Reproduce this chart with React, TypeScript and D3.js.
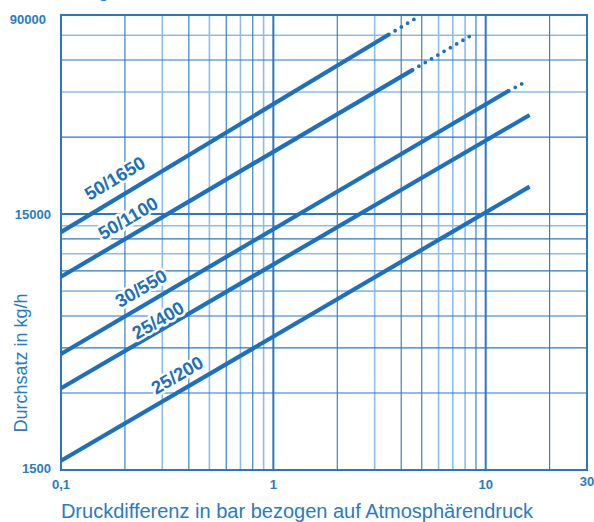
import React from 'react';
import * as d3 from 'd3';

// values (log-log flow diagram)
const seriesNames = ['50/1650', '50/1100', '30/550', '25/400', '25/200'];
const startP = [0.1, 0.1, 0.1, 0.1, 0.1];
const startQ = [12760, 8540, 4260, 3130, 1630];
const endP = [3.5, 4.53, 12.85, 16.1, 16.1];
const endQ = [75500, 54900, 45500, 36600, 19200];
const dotP = [4.74, 8.61, 14.96, null, null];
const dotQ = [87900, 75200, 48700, null, null];
const labelP = [0.179, 0.2066, 0.238, 0.286, 0.352];
const labelQ = [20760, 14480, 7710, 5780, 3530];

const xGridDark = [0.2, 0.4, 0.6, 0.8, 2, 4, 5, 9, 20];
const xGridLight = [0.3, 0.5, 0.7, 0.9, 3, 6, 7, 8];
const xGridBold = [1, 10];
const yGridDark = [3000, 4500, 6000, 9000, 12000, 30000, 60000];
const yGridLight = [7500, 10500, 13500, 45000, 75000];
const yGridBold = [15000];

const xTicks = [0.1, 1, 10, 30];
const xTickLabels = ['0,1', '1', '10', '30'];
const yTicks = [90000, 15000, 1500];
const yTickLabels = ['90000', '15000', '1500'];

const W = 594;
const H = 522;
const M = { left: 61, right: 587, top: 15, bottom: 470 };

const LINE = '#1f70b8';
const GRID = '#2a78c0';
const GRID_LIGHT = '#8dbde5';
const TEXT = '#2b7bc1';
const FONT = '"Liberation Sans", Arial, sans-serif';

export default function App() {
  const x = d3.scaleLog().domain([0.1, 30]).range([M.left, M.right]);
  const y = d3.scaleLog().domain([1500, 90000]).range([M.bottom, M.top]);
  const line = d3.line<[number, number]>().x(d => x(d[0])).y(d => y(d[1]));

  return (
    <svg width={W} height={H} style={{ position: 'absolute', left: 0, top: 0, background: '#fff' }}>
      {/* cut-off title at the top */}
      <text x={70} y={-3} fontFamily={FONT} fontWeight="bold" fontSize={18} fill={TEXT}>Diagramm</text>

      {xGridLight.map(v => (
        <line key={'xl' + v} x1={x(v)} x2={x(v)} y1={M.top} y2={M.bottom} stroke={GRID_LIGHT} strokeWidth={1.6} />
      ))}
      {yGridLight.map(v => (
        <line key={'yl' + v} x1={M.left} x2={M.right} y1={y(v)} y2={y(v)} stroke={GRID_LIGHT} strokeWidth={1.6} />
      ))}
      {xGridDark.map(v => (
        <line key={'xd' + v} x1={x(v)} x2={x(v)} y1={M.top} y2={M.bottom} stroke={GRID} strokeWidth={1.1} />
      ))}
      {yGridDark.map(v => (
        <line key={'yd' + v} x1={M.left} x2={M.right} y1={y(v)} y2={y(v)} stroke={GRID} strokeWidth={1.1} />
      ))}
      {xGridBold.map(v => (
        <line key={'xb' + v} x1={x(v)} x2={x(v)} y1={M.top} y2={M.bottom} stroke={GRID} strokeWidth={2} />
      ))}
      {yGridBold.map(v => (
        <line key={'yb' + v} x1={M.left} x2={M.right} y1={y(v)} y2={y(v)} stroke={GRID} strokeWidth={2} />
      ))}
      <rect x={M.left} y={M.top} width={M.right - M.left} height={M.bottom - M.top} fill="none" stroke={GRID} strokeWidth={2} />

      {seriesNames.map((name, i) => {
        const dp = dotP[i];
        const dq = dotQ[i];
        return (
          <g key={name}>
            <path
              d={line([[startP[i], startQ[i]], [endP[i], endQ[i]]]) || ''}
              stroke={LINE}
              strokeWidth={4.2}
              fill="none"
            />
            {dp !== null && dq !== null && (
              <path
                d={line([[endP[i], endQ[i]], [dp, dq]]) || ''}
                stroke={LINE}
                strokeWidth={3.8}
                strokeLinecap="round"
                strokeDasharray="0 7.3"
                strokeDashoffset={-7.3}
                fill="none"
              />
            )}
          </g>
        );
      })}

      {seriesNames.map((name, i) => {
        const dx = x(endP[i]) - x(startP[i]);
        const dy = y(endQ[i]) - y(startQ[i]);
        const ang = (Math.atan2(dy, dx) * 180) / Math.PI;
        const cx = x(labelP[i]);
        const cy = y(labelQ[i]);
        return (
          <text
            key={'lab' + name}
            x={cx}
            y={cy}
            dy="0.36em"
            transform={`rotate(${ang} ${cx} ${cy})`}
            textAnchor="middle"
            fontFamily={FONT}
            fontWeight="bold"
            fontSize={18.5}
            fill={LINE}
            stroke="#fff"
            strokeWidth={5}
            paintOrder="stroke"
            strokeLinejoin="round"
          >
            {name}
          </text>
        );
      })}

      {xTicks.map((v, i) => (
        <text
          key={'xt' + v}
          x={x(v)}
          y={v === 30 ? 486 : 489}
          textAnchor="middle"
          fontFamily={FONT}
          fontWeight="bold"
          fontSize={13}
          fill={TEXT}
        >
          {xTickLabels[i]}
        </text>
      ))}
      {yTicks.map((v, i) => (
        <text
          key={'yt' + v}
          x={v === 90000 ? 46 : 51}
          y={y(v) + (v === 90000 ? 9 : v === 1500 ? 3 : 4.5)}
          textAnchor="end"
          fontFamily={FONT}
          fontWeight="bold"
          fontSize={13}
          fill={TEXT}
        >
          {yTickLabels[i]}
        </text>
      ))}

      <text x={297} y={518} textAnchor="middle" fontFamily={FONT} fontSize={20} fill={TEXT}>
        Druckdifferenz in bar bezogen auf Atmosphärendruck
      </text>
      <text
        x={0}
        y={0}
        transform="translate(27 363) rotate(-90)"
        textAnchor="middle"
        fontFamily={FONT}
        fontSize={18}
        fill={TEXT}
      >
        Durchsatz in kg/h
      </text>
    </svg>
  );
}
